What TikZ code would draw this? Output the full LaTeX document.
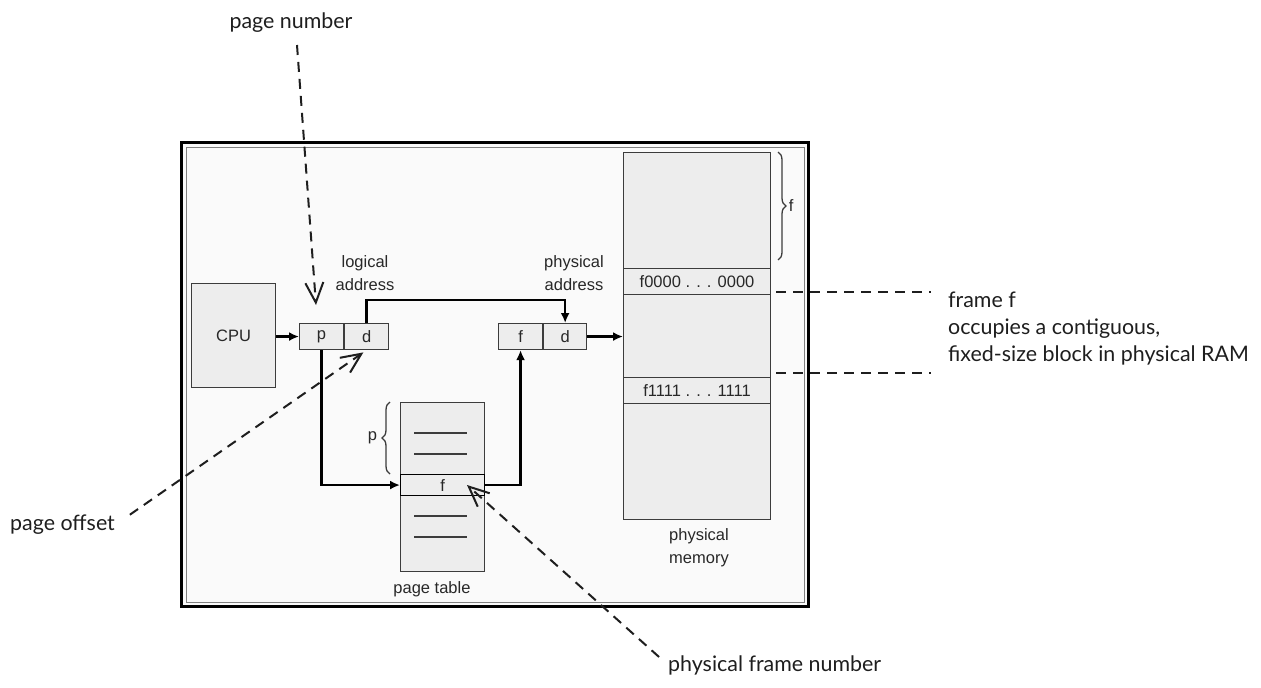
\documentclass[tikz,border=0pt]{standalone}
\usepackage{fontspec}
\setmainfont{Liberation Sans}
\newfontfamily\notefont{Lato}
\usetikzlibrary{arrows.meta, positioning, calc, decorations.pathreplacing}
\definecolor{CellFill}{RGB}{237,237,237}
\definecolor{CellEdge}{RGB}{60,60,60}
\definecolor{FrameFill}{RGB}{250,250,250}
\definecolor{InkGray}{RGB}{40,40,40}
\definecolor{NoteInk}{RGB}{30,30,30}

\tikzset{
  cell/.style={draw=CellEdge, fill=CellFill, line width=1.1pt, inner sep=0pt,
               anchor=north west, text=InkGray, font=\fontsize{16.5}{19}\selectfont},
  flow/.style={line width=2.5pt, -{Latex[length=10pt,width=9pt]}},
  rowline/.style={line width=1.1pt, draw=CellEdge},
  lbl/.style={font=\fontsize{16.5}{23}\selectfont, text=InkGray, align=center},
  note/.style={line width=2pt, dash pattern=on 10pt off 7pt, draw=NoteInk},
  notearrow/.style={note, -{Straight Barb[length=20pt,width=18pt,line width=2pt]}},
  notetext/.style={font=\notefont\fontsize{21.4}{27}\selectfont, text=NoteInk, align=left, inner sep=0pt},
  curly/.style={decorate, decoration={brace, amplitude=8pt}, line width=1.3pt, draw=CellEdge}
}

\begin{document}
\begin{tikzpicture}[x=1pt, y=-1pt]
  \useasboundingbox (0,0) rectangle (1261,688);

  % outer frame
  \draw[line width=3.2pt, fill=FrameFill] (181.5,142.5) rectangle (808.5,606.5);
  \draw[line width=1pt, draw=gray] (186,147) rectangle (804,602);

  % cpu and addresses
  \node[cell, minimum width=84pt, minimum height=104pt] (cpu) at (191,283) {CPU};
  \node[cell, minimum width=44pt, minimum height=26pt] (lp) at (299,323) {p};
  \node[cell, minimum width=44pt, minimum height=26pt, anchor=west] (ld) at (lp.east) {d};
  \node[cell, minimum width=44pt, minimum height=26pt] (pf) at (498,323) {f};
  \node[cell, minimum width=43pt, minimum height=26pt, anchor=west] (pd) at (pf.east) {d};

  \node[lbl] (lalbl) at (365,273) {logical\\address};
  \node[lbl] (palbl) at (574,273) {physical\\address};

  % page table
  \node[cell, minimum width=84pt, minimum height=169pt] (ptable) at (400,402) {};
  \node[cell, draw=black, minimum width=84pt, minimum height=21pt] (ptf) at (400,474) {f};
  \foreach \y in {433,454,516,537}
    \draw[rowline] (414,\y) -- (467,\y);
  \draw[curly] (390,474) -- (390,402) node[midway, left=9pt, lbl] (pbrace) {p};
  \node[lbl] (ptlbl) at (432,589) {page table};

  % physical memory
  \node[cell, minimum width=147pt, minimum height=367pt] (mem) at (623,152) {};
  \node[cell, minimum width=147pt, minimum height=26pt] (row0) at (623,268) {f0000 . . . 0000};
  \node[cell, minimum width=147pt, minimum height=26pt] (row1) at (623,377) {f1111 . . . 1111};
  \draw[curly] (778,152) -- (778,260) node[midway, right=7pt, lbl] (fbrace) {f};
  \node[lbl] (memlbl) at (699,548) {physical\\memory};

  % translation flow
  \draw[flow] (cpu.east |- lp.west) -- (lp.west);
  \draw[flow] (ld.north) -- ++(0,-23) -| (pd.north);
  \draw[flow] (lp.south) |- (ptf.west);
  \draw[flow] (ptf.east) -| (pf.south);
  \draw[flow] (pd.east) -- (pd.east -| mem.west);

  % annotations
  \node[notetext] (pnum) at (291,23) {page number};
  \node[notetext, anchor=west] (poff) at (10,525) {page offset};
  \node[notetext, anchor=west] (pfn) at (668,665) {physical frame number};
  \node[notetext, anchor=west] (fnote) at (948,329) {frame f\\occupies a contiguous,\\fixed-size block in physical RAM};

  \coordinate (pnumfoot) at (297,45);
  \coordinate (pnumtip) at (316,305);
  \coordinate (pfntip) at (467,485);
  \draw[notearrow] (pnumfoot) -- (pnumtip);
  \draw[notearrow, shorten <=18pt, shorten >=4pt] (poff.east) -- (ld.south);
  \draw[notearrow, shorten <=12pt] (pfn.west) -- (pfntip);
  \draw[note] ([xshift=5pt, yshift=3pt]row0.south east) -- ++(155,0);
  \draw[note] ([xshift=5pt, yshift=4pt]row1.north east) -- ++(155,0);
\end{tikzpicture}
\end{document}
